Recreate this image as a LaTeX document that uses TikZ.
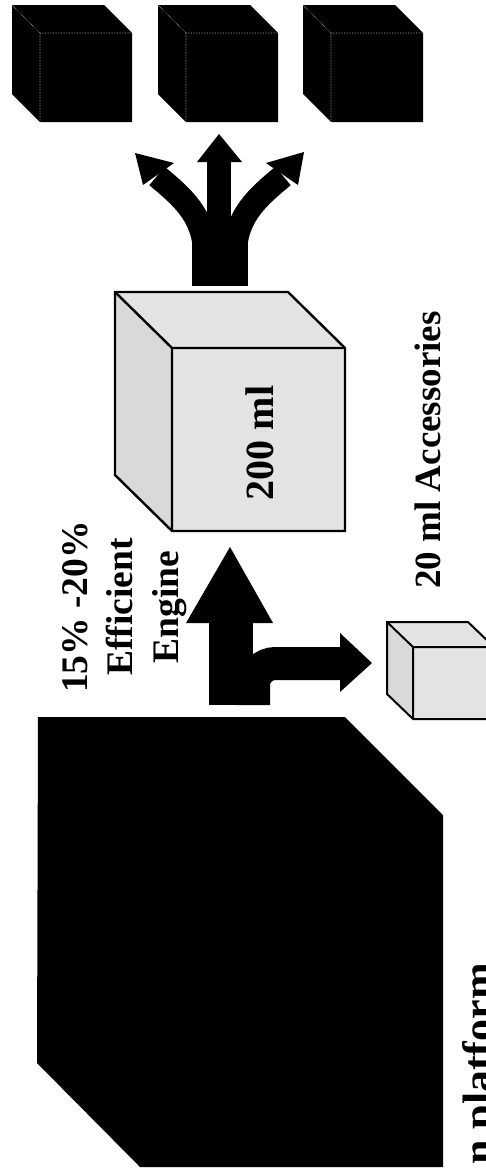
\documentclass[tikz,border=0pt]{standalone}
\usepackage{fontspec}
\setmainfont{Liberation Serif}
\begin{document}
\begin{tikzpicture}[x=1pt,y=-1pt,
  blackcube/.style={fill=black},
  inneredge/.style={draw=gray!55,line width=0.6pt,densely dotted},
  litecube/.style={fill=gray!22,draw=black,line width=2.4pt,line join=miter},
  liteside/.style={fill=gray!30},
  edge/.style={draw=black,line width=2.4pt},
  lbl/.style={font=\bfseries\fontsize{37.5}{45}\selectfont,rotate=90,inner sep=0pt},
  solid arrow/.style={fill=black}]
\useasboundingbox (0,0) rectangle (486,1170);
\fill[white] (0,0) rectangle (486,1170);

% three black cubes at the top
\foreach \dx/\nm in {0/ca,146/cb,291/cc}{
  \begin{scope}[xshift=\dx pt]
  \path[blackcube] (12,5) -- (104,5) -- (132,33) -- (132,122) -- (40,122) -- (12,94) -- cycle;
  \draw[inneredge] (12,5) -- (40,33) -- (132,33) (40,33) -- (40,122);
  \coordinate (\nm) at (72,63);
  \end{scope}
}

% three-way arrow
\fill (192,243) rectangle (248,286);
\fill (207,248) rectangle (231,160);
\fill (197,162) -- (219,134) -- (242,162) -- cycle;
\draw[line width=24pt] (205,252) .. controls (204,215) and (181,196) .. (157,176);
\fill (174,163) -- (135,153) -- (143,185) -- cycle;
\draw[line width=24pt] (235,252) .. controls (236,215) and (259,196) .. (283,176);
\fill (266,163) -- (304,152) -- (298,185) -- cycle;

% big 200 ml cube
\path[fill=gray!22] (115,292) -- (288,292) -- (345,348) -- (345,531) -- (172,531) -- (115,475) -- cycle;
\path[liteside] (115,292) -- (172,348) -- (172,531) -- (115,475) -- cycle;
\draw[edge,line join=miter] (115,292) -- (288,292) -- (345,348) -- (345,531) -- (172,531) -- (115,475) -- cycle;
\draw[edge] (115,292) -- (172,348) -- (345,348) (172,348) -- (172,531);
\node[lbl,font=\bfseries\fontsize{40}{48}\selectfont,anchor=base] (big) at (273,443) {200 ml};

% labels
\node[lbl,anchor=base] (t1) at (87,607) {15\% -20\%};
\node[lbl,anchor=base] (t2) at (132,607) {Efficient};
\node[lbl,anchor=base] (t3) at (178,607) {Engine};
\node[lbl,font=\bfseries\fontsize{37}{45}\selectfont,anchor=base] (acc) at (440,450) {20 ml Accessories};

% bent arrow
\fill (186,623) -- (230,547) -- (273,623) -- cycle;
\fill (209,621) rectangle (253,705);
\draw[line width=33pt,rounded corners=22pt] (253.5,705) -- (253.5,663.5) -- (341,663.5);
\fill (340,633) -- (372,663) -- (340,692) -- cycle;

% small cube
\path[fill=gray!22] (387,622) -- (468,622) -- (494,647) -- (494,719) -- (413,719) -- (387,694) -- cycle;
\path[liteside] (387,622) -- (413,647) -- (413,719) -- (387,694) -- cycle;
\draw[edge,line width=2pt] (494,647) -- (468,622) -- (387,622) -- (387,694) -- (413,719) -- (494,719);
\draw[edge,line width=2pt] (387,622) -- (413,647) -- (494,647) (413,647) -- (413,719);

% big black cube
\fill (38,717) -- (345,717) -- (443,815) -- (443,1167) -- (140,1167) -- (37,1063) -- cycle;

% cut-off title
\node[lbl,font=\bfseries\fontsize{44}{50}\selectfont,anchor=base east] (title) at (493,963) {n platform};
\end{tikzpicture}
\end{document}
